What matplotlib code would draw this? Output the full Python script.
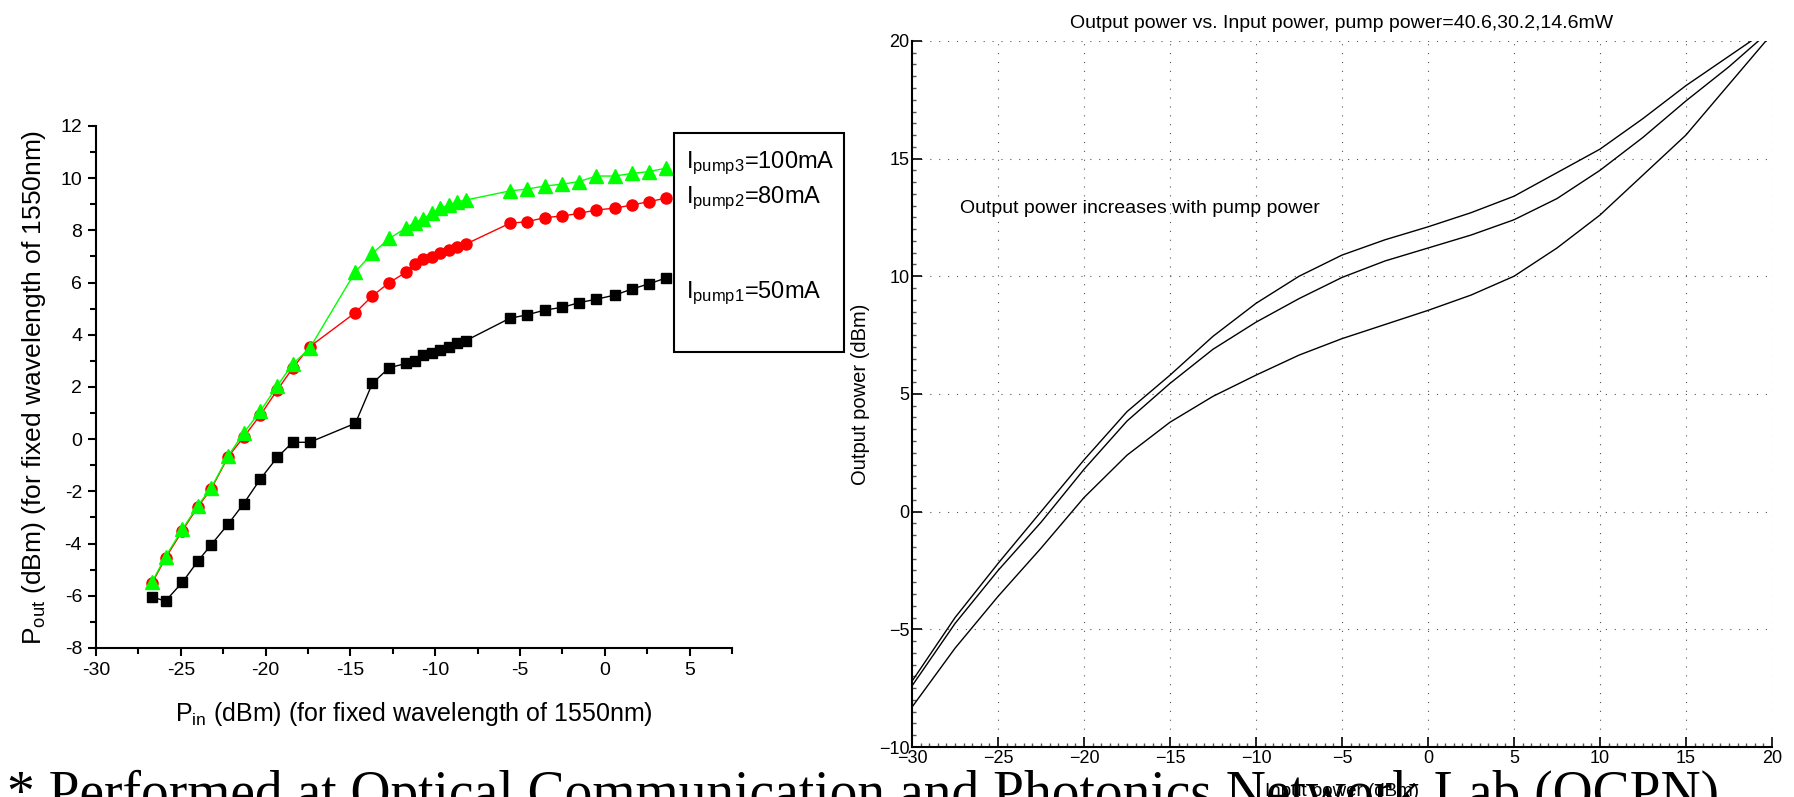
import matplotlib
matplotlib.use("Agg")
import matplotlib.pyplot as plt
from matplotlib.ticker import MultipleLocator, FuncFormatter
from matplotlib.patches import Rectangle

plt.rcParams['font.family'] = ['Liberation Sans', 'DejaVu Sans']
plt.rcParams['mathtext.default'] = 'regular'

"================================================="
" Left panel: measured Pout vs Pin (Origin style) "
pin = [-26.7, -25.9, -24.9, -24.0, -23.2, -22.2, -21.3, -20.3, -19.3, -18.4, -17.4,
       -14.7, -13.7, -12.7, -11.7, -11.2, -10.7, -10.2, -9.7, -9.2, -8.7, -8.2,
       -5.6, -4.6, -3.5, -2.5, -1.5, -0.5, 0.6, 1.6, 2.6, 3.6]
pout_50 = [-6.05, -6.2, -5.48, -4.68, -4.04, -3.25, -2.48, -1.52, -0.69, -0.12, -0.12,
           0.61, 2.14, 2.74, 2.9, 3.0, 3.22, 3.31, 3.42, 3.54, 3.70, 3.77,
           4.63, 4.76, 4.95, 5.05, 5.23, 5.36, 5.52, 5.75, 5.95, 6.17]
pout_80 = [-5.52, -4.56, -3.5, -2.6, -1.9, -0.67, 0.07, 0.93, 1.89, 2.72, 3.54,
           4.85, 5.49, 6.0, 6.4, 6.71, 6.89, 6.99, 7.12, 7.25, 7.38, 7.47,
           8.27, 8.33, 8.49, 8.55, 8.65, 8.78, 8.85, 8.97, 9.10, 9.23]
pout_100 = [-5.48, -4.5, -3.45, -2.55, -1.86, -0.64, 0.23, 1.08, 2.05, 2.88, 3.48,
            6.42, 7.12, 7.69, 8.1, 8.3, 8.45, 8.65, 8.84, 8.97, 9.1, 9.16,
            9.51, 9.58, 9.70, 9.77, 9.87, 10.08, 10.08, 10.18, 10.25, 10.38]
legend_labels = [r"I$_{\mathregular{pump3}}$=100mA",
                 r"I$_{\mathregular{pump2}}$=80mA",
                 r"I$_{\mathregular{pump1}}$=50mA"]

"================================================="
" Right panel: simulated output power (MATLAB style) "
x_sim = [-30, -27.5, -25, -22.5, -20, -17.5, -15, -12.5, -10, -7.5, -5, -2.5,
         0, 2.5, 5, 7.5, 10, 12.5, 15, 17.5, 20]
y_406 = [-7.2, -4.5, -2.2, 0.0, 2.2, 4.25, 5.8, 7.45, 8.85, 10.0, 10.9, 11.55,
         12.1, 12.7, 13.4, 14.4, 15.4, 16.7, 18.1, 19.35, 20.6]
y_302 = [-7.4, -4.75, -2.5, -0.45, 1.8, 3.85, 5.45, 6.9, 8.05, 9.05, 9.95, 10.65,
         11.2, 11.75, 12.4, 13.3, 14.5, 15.9, 17.45, 18.9, 20.5]
y_146 = [-8.3, -5.8, -3.6, -1.55, 0.6, 2.4, 3.8, 4.9, 5.8, 6.65, 7.35, 7.95,
         8.55, 9.2, 10.0, 11.2, 12.6, 14.3, 16.0, 18.15, 20.3]

fig = plt.figure(figsize=(17.94, 7.97), dpi=100)

# ---- left chart
ax1 = fig.add_axes([0.0535, 0.187, 0.3545, 0.655])
ax1.plot(pin, pout_50, color='black', lw=1, marker='s', ms=7.5, mec='black')
ax1.plot(pin, pout_80, color='red', lw=1, marker='o', ms=8, mec='red')
ax1.plot(pin, pout_100, color='#00ff00', lw=1, marker='^', ms=9.5, mec='#00ff00')
ax1.set_xlim(-30, 7.5)
ax1.set_ylim(-8, 12)
ax1.xaxis.set_major_locator(MultipleLocator(5))
ax1.xaxis.set_minor_locator(MultipleLocator(2.5))
ax1.yaxis.set_major_locator(MultipleLocator(2))
ax1.yaxis.set_minor_locator(MultipleLocator(1))
ax1.spines['top'].set_visible(False)
ax1.spines['right'].set_visible(False)
for s in ['left', 'bottom']:
    ax1.spines[s].set_linewidth(1.5)
ax1.tick_params(which='major', direction='out', length=6, width=1.5, labelsize=14, pad=4)
ax1.tick_params(which='minor', direction='out', length=4, width=1.5)
ax1.xaxis.set_major_formatter(FuncFormatter(lambda v, p: f"{v:g}"))
ax1.yaxis.set_major_formatter(FuncFormatter(lambda v, p: f"{v:g}"))
ax1.set_xlabel(r"P$_{\mathregular{in}}$ (dBm) (for fixed wavelength of 1550nm)", fontsize=18)
ax1.set_ylabel(r"P$_{\mathregular{out}}$ (dBm) (for fixed wavelength of 1550nm)", fontsize=19)
ax1.xaxis.set_label_coords(0.5, -0.10)
ax1.yaxis.set_label_coords(-0.075, 0.5)

# legend-like box made of plain text
fig.patches.append(Rectangle((674 / 1794, 1 - 352 / 797), 170 / 1794, 219 / 797,
                             transform=fig.transFigure, fill=False, ec='black', lw=1.5))
for lab, yy in zip(legend_labels, [163, 198, 293]):
    fig.text(686 / 1794, 1 - yy / 797, lab, fontsize=17, va='center', ha='left')

# ---- right chart
ax2 = fig.add_axes([0.5084, 0.0627, 0.4793, 0.886])
for yy in [y_406, y_302, y_146]:
    ax2.plot(x_sim, yy, color='black', lw=1)
ax2.set_xlim(-30, 20)
ax2.set_ylim(-10, 20)
ax2.xaxis.set_major_locator(MultipleLocator(5))
ax2.xaxis.set_minor_locator(MultipleLocator(0.5))
ax2.yaxis.set_major_locator(MultipleLocator(5))
ax2.yaxis.set_minor_locator(MultipleLocator(0.5))
ax2.spines['top'].set_visible(False)
ax2.spines['right'].set_visible(False)
for s in ['left', 'bottom']:
    ax2.spines[s].set_linewidth(1.5)
ax2.tick_params(which='major', direction='in', length=7, width=1.2, labelsize=13, pad=2)
ax2.tick_params(which='minor', direction='in', length=3, width=1, color='#555555')
ax2.grid(True, which='major', color='#555555', lw=0.8, linestyle=(0, (1, 7)))
ax2.set_title("Output power vs. Input power, pump power=40.6,30.2,14.6mW",
              fontsize=14, pad=9)
ax2.set_xlabel("Input power (dBm)", fontsize=13.5)
ax2.set_ylabel("Output power (dBm)", fontsize=14.5)
ax2.xaxis.set_label_coords(0.5, -0.051)
ax2.yaxis.set_label_coords(-0.049, 0.5)
ax2.text(-27.2, 12.9, "Output power increases with pump power", fontsize=14,
         va='center', ha='left')

# footnote cut off at the bottom edge (drawn under the axes labels)
fig.text(0.004, -0.0166, "* Performed at Optical Communication and Photonics Network Lab (OCPN)",
         family='Liberation Serif', fontsize=40, va='baseline', ha='left', zorder=-1)

fig.savefig("out.png", dpi=100)
